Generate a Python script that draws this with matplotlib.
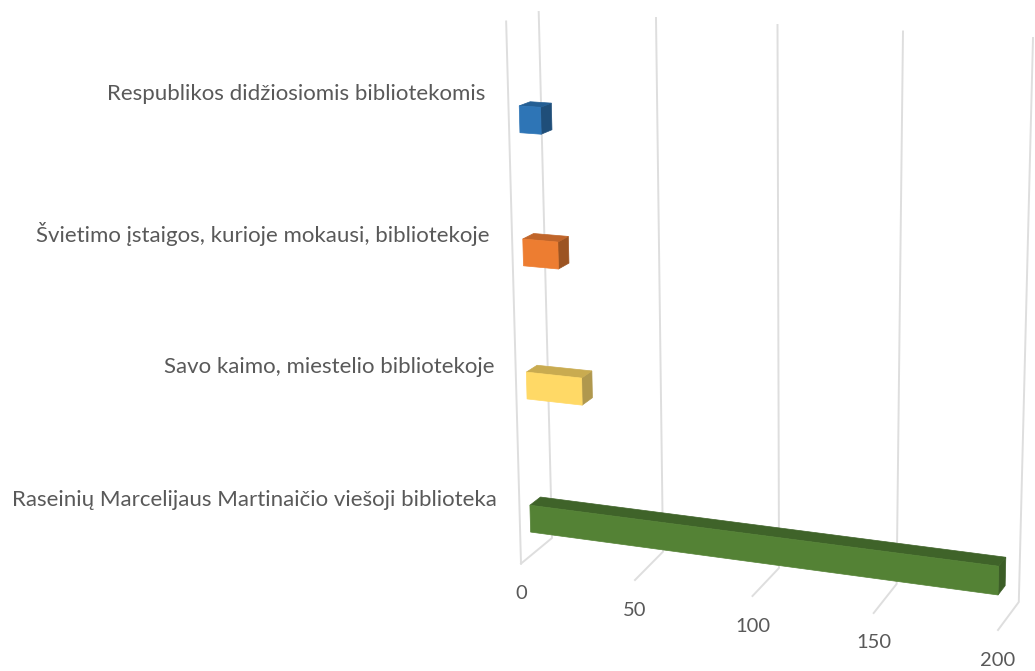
#!/usr/bin/env python3
"""3D style horizontal bar chart, drawn by projecting bars onto the flat axes."""

import matplotlib
matplotlib.use('Agg')
import matplotlib.pyplot as plt
from matplotlib.patches import Polygon
import numpy as np

plt.rcParams['font.family'] = ['Lato', 'DejaVu Sans']

# bottom to top
categories = [
    'Raseinių Marcelijaus Martinaičio viešoji biblioteka',
    'Savo kaimo, miestelio bibliotekoje',
    'Švietimo įstaigos, kurioje mokausi, bibliotekoje',
    'Respublikos didžiosiomis bibliotekomis',
]
values = [197, 24, 15, 9]
ticks = [0, 50, 100, 150, 200]

# front, top, side shade per bar
COLORS = [
    ('#548235', '#3f6329', '#3c5e27'),
    ('#ffd966', '#c9ab50', '#b0984e'),
    ('#ed7d31', '#c0652a', '#9c5422'),
    ('#2e75b6', '#245e93', '#1f4e79'),
]
GRID = '#dedede'
TEXT = '#595959'

# Where the walls end up on screen, one entry per tick
FRONT_X = np.array([521, 635, 752.5, 873.7, 998])
FRONT_Y = np.array([563.6, 580, 596, 613, 630])
BACK_X = np.array([552, 663, 779, 896.6, 1018.8])
BACK_Y = np.array([538, 551.7, 568, 584, 602])
TOP_X = np.array([538.7, 656, 777.5, 903, 1033])
TOP_Y = np.array([12, 18, 25, 31.5, 38])


def project(v, d, h):
    """value, depth (0 front, 1 back), height (0 floor, 1 top) -> screen x, y"""
    fx = np.interp(v, ticks, FRONT_X)
    fy = np.interp(v, ticks, FRONT_Y)
    bx = np.interp(v, ticks, BACK_X)
    by = np.interp(v, ticks, BACK_Y)
    tx = np.interp(v, ticks, TOP_X)
    ty = np.interp(v, ticks, TOP_Y)
    # front top corner is a bit flatter than the floor
    ftx = tx + (fx - bx) * 1.05
    fty = ty + (fy - by) * 0.37
    low = (fx + (bx - fx) * d, fy + (by - fy) * d)
    high = (ftx + (tx - ftx) * d, fty + (ty - fty) * d)
    return (low[0] + (high[0] - low[0]) * h, low[1] + (high[1] - low[1]) * h)


fig = plt.figure(figsize=(10.35, 6.71), dpi=100)
ax = fig.add_axes([0, 0, 1, 1])
ax.set_xlim(0, 1035)
ax.set_ylim(671, 0)
ax.axis('off')

# Gridlines: back wall plus floor tick for each value
for t in ticks:
    pts = [project(t, 1, 1), project(t, 1, 0), project(t, 0, 0)]
    ax.plot([p[0] for p in pts], [p[1] for p in pts], color=GRID, lw=1.4, zorder=1)
    x, y = project(t, 0, 0)
    ax.text(x, y + 30, str(t), ha='center', va='center', fontsize=14.5, color=TEXT)

# Left edge of the side wall
p0, p1 = project(0, 0, 1), project(0, 0, 0)
ax.plot([p0[0], p1[0]], [p0[1], p1[1]], color=GRID, lw=1.4, zorder=1)

# Bars
D0, D1 = 0.33, 0.67
BAR_H = 0.05
for i, (val, cols) in enumerate(zip(values, COLORS)):
    h0 = 0.043 + 0.248 * i
    h1 = h0 + BAR_H
    front = [project(0, D0, h0), project(val, D0, h0), project(val, D0, h1), project(0, D0, h1)]
    top = [project(0, D0, h1), project(val, D0, h1), project(val, D1, h1), project(0, D1, h1)]
    side = [project(val, D0, h0), project(val, D1, h0), project(val, D1, h1), project(val, D0, h1)]
    ax.add_patch(Polygon(side, closed=True, fc=cols[2], ec=cols[2], lw=0.5, zorder=3))
    ax.add_patch(Polygon(top, closed=True, fc=cols[1], ec=cols[1], lw=0.5, zorder=3))
    ax.add_patch(Polygon(front, closed=True, fc=cols[0], ec=cols[0], lw=0.5, zorder=4))

# Category labels
LABEL_X = [497, 495, 489, 485]
LABEL_Y = [500, 367, 234, 94]
for name, x, y in zip(categories, LABEL_X, LABEL_Y):
    ax.text(x, y, name, ha='right', va='center', fontsize=16, color=TEXT)

fig.savefig('out.png', dpi=100)
